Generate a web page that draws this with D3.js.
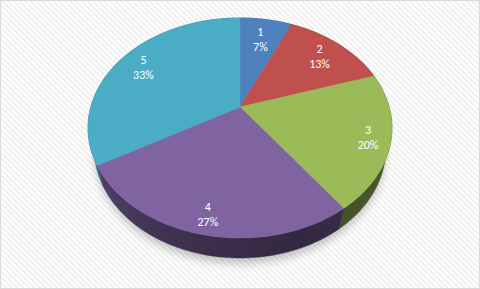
<!DOCTYPE html>
<html>
<head>
<meta charset="utf-8">
<script src="https://cdn.jsdelivr.net/npm/d3@7"></script>
<style>
  body { margin: 0; background: #fff; }
  svg { display: block; }
</style>
</head>
<body>
<div id="chart"></div>
<script>
const categories = ['1', '2', '3', '4', '5'];
const values = [1, 2, 3, 4, 5];
const colors = ['#4F81BD', '#C0504D', '#9BBB59', '#8064A2', '#4BACC6'];

const width = 480,
    height = 289;

// 3d projection of the pie plane (tilted disc seen with a little perspective)
const CX = 240, CY = 107, K = 149.2,
    SA = 0.7105, CA = Math.sqrt(1 - SA * SA),
    F = 3.69, DEPTH = 0.213;

function proj(x, z, h) {
    let v = z * SA - h * CA,
        w = z * CA + h * SA,
        s = F / (F - w);
    return [CX + K * x * s, CY + K * v * s];
}

function rimPoint(a, r, h) {
    return proj(r * Math.sin(a), -r * Math.cos(a), h);
}

let svg = d3.select('#chart').append('svg')
    .attr('width', width)
    .attr('height', height);

let defs = svg.append('defs');

let stripes = defs.append('pattern')
    .attr('id', 'stripes')
    .attr('width', 4)
    .attr('height', 4)
    .attr('patternUnits', 'userSpaceOnUse')
    .attr('patternTransform', 'rotate(-45)');
stripes.append('rect')
    .attr('width', 4).attr('height', 4).attr('fill', '#ffffff');
stripes.append('rect')
    .attr('width', 1.6).attr('height', 4).attr('fill', '#ececec');

defs.append('filter')
    .attr('id', 'blur')
    .attr('x', '-20%').attr('y', '-20%')
    .attr('width', '140%').attr('height', '140%')
    .append('feGaussianBlur')
    .attr('stdDeviation', 4);

svg.append('rect')
    .attr('x', 0.5).attr('y', 0.5)
    .attr('width', width - 1).attr('height', height - 1)
    .attr('fill', 'url(#stripes)')
    .attr('stroke', '#d9d9d9');

let pie = d3.pie().sort(null).value(d => d)
    .startAngle(0).endAngle(2 * Math.PI);
let arcs = pie(values);

let line = d3.line();

function sampleAngles(a0, a1) {
    let n = Math.max(2, Math.ceil((a1 - a0) / 0.02));
    return d3.range(n + 1).map(i => a0 + (a1 - a0) * i / n);
}

// soft shadow under the pie
let shadowPts = sampleAngles(0, 2 * Math.PI).map(a => rimPoint(a, 1.0, -DEPTH - 0.03));
svg.append('path')
    .attr('d', line(shadowPts) + 'Z')
    .attr('transform', 'translate(0,3)')
    .attr('fill', '#000')
    .attr('opacity', 0.22)
    .attr('filter', 'url(#blur)');

// side gradients
arcs.forEach((d, i) => {
    let c = d3.rgb(colors[i]);
    let shade = f => d3.rgb(c.r * f, c.g * f, c.b * f).toString();
    let g = defs.append('linearGradient')
        .attr('id', 'side' + i)
        .attr('gradientUnits', 'userSpaceOnUse')
        .attr('x1', 88).attr('x2', 392)
        .attr('y1', 0).attr('y2', 0);
    g.append('stop').attr('offset', 0).attr('stop-color', shade(0.64));
    g.append('stop').attr('offset', 0.25).attr('stop-color', shade(0.5));
    g.append('stop').attr('offset', 0.7).attr('stop-color', shade(0.4));
    g.append('stop').attr('offset', 1).attr('stop-color', shade(0.48));
});

let sides_g = svg.append('g').attr('class', 'sides');
let tops_g = svg.append('g').attr('class', 'tops');
let labels_g = svg.append('g').attr('class', 'labels');

sides_g.selectAll('.side')
    .data(arcs)
    .join('path')
    .attr('class', 'side')
    .attr('d', function (d) {
        let angs = sampleAngles(d.startAngle, d.endAngle);
        let top = angs.map(a => rimPoint(a, 1, 0));
        let bottom = angs.slice().reverse().map(a => rimPoint(a, 1, -DEPTH));
        return line(top.concat(bottom)) + 'Z';
    })
    .attr('fill', (d, i) => `url(#side${i})`)
    .attr('stroke', (d, i) => `url(#side${i})`)
    .attr('stroke-width', 0.5);

tops_g.selectAll('.slice')
    .data(arcs)
    .join('path')
    .attr('class', 'slice')
    .attr('d', function (d) {
        let pts = [proj(0, 0, 0)].concat(
            sampleAngles(d.startAngle, d.endAngle).map(a => rimPoint(a, 1, 0)));
        return line(pts) + 'Z';
    })
    .attr('fill', (d, i) => colors[i])
    .attr('stroke', (d, i) => colors[i])
    .attr('stroke-width', 0.5);

let total = d3.sum(values);

labels_g.selectAll('.label')
    .data(arcs)
    .join('text')
    .attr('class', 'label')
    .attr('text-anchor', 'middle')
    .attr('fill', '#ffffff')
    .style('font-family', "Carlito, Calibri, 'Open Sans', sans-serif")
    .style('font-size', '12px')
    .style('font-weight', 500)
    .each(function (d, i) {
        let mid = (d.startAngle + d.endAngle) / 2;
        let x = Math.sin(mid), z = -Math.cos(mid);
        let r = 0.8 + 0.06 * z + 0.04 * Math.abs(x);
        let p = rimPoint(mid, r, 0);
        let t = d3.select(this);
        t.append('tspan')
            .attr('x', p[0]).attr('y', p[1] - 3)
            .text(categories[i]);
        t.append('tspan')
            .attr('x', p[0]).attr('y', p[1] + 12)
            .text(Math.round(d.value / total * 100) + '%');
    });
</script>
</body>
</html>
